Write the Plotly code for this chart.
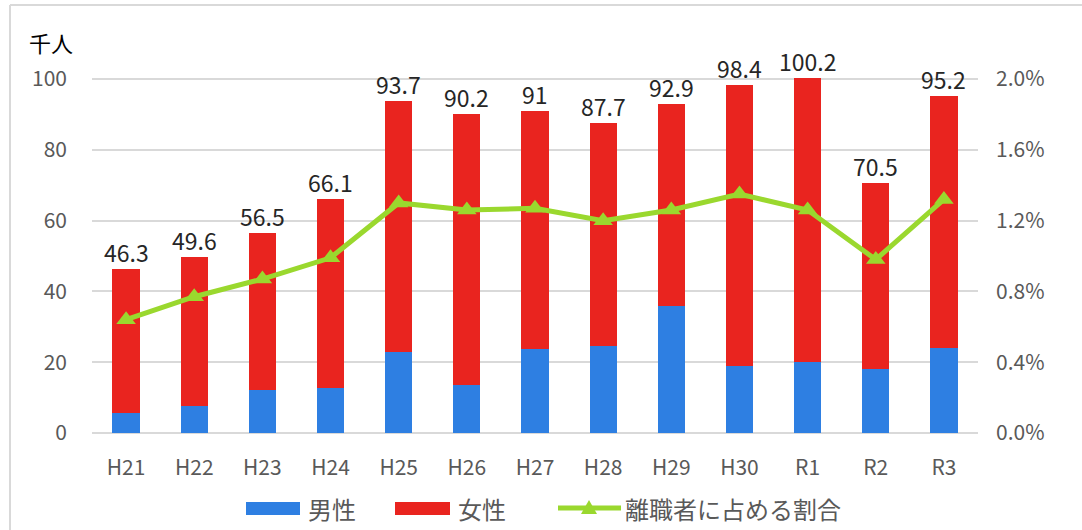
import plotly.graph_objects as go

categories = ["H21", "H22", "H23", "H24", "H25", "H26", "H27", "H28", "H29", "H30", "R1", "R2", "R3"]
totals = [46.3, 49.6, 56.5, 66.1, 93.7, 90.2, 91, 87.7, 92.9, 98.4, 100.2, 70.5, 95.2]
total_labels = ["46.3", "49.6", "56.5", "66.1", "93.7", "90.2", "91", "87.7", "92.9", "98.4", "100.2", "70.5", "95.2"]
male = [5.6, 7.7, 12.2, 12.7, 22.8, 13.7, 23.7, 24.6, 35.9, 18.8, 20.2, 18.0, 24.1]
female = [round(t - m, 1) for t, m in zip(totals, male)]
ratio = [0.0064, 0.0077, 0.0087, 0.0099, 0.0130, 0.0126, 0.0127, 0.0120, 0.0126, 0.0135, 0.0126, 0.0098, 0.0132]
legend_names = ["男性", "女性", "離職者に占める割合"]

FONT = "Noto Sans CJK JP"
GRAY = "#595959"
BLUE, RED, GREEN = "#2E7FE2", "#E9241F", "#9AD82E"

W, H = 1082, 530
L, R, T, B = 92, 104, 78, 97
pw, ph = W - L - R, H - T - B
YMAX = 100.3


def px(x):
    return (x - L) / pw


def py(y):
    return (H - B - y) / ph


fig = go.Figure()
fig.add_trace(go.Bar(x=categories, y=male, name=legend_names[0], marker_color=BLUE,
                     marker_line_width=0, cliponaxis=False))
fig.add_trace(go.Bar(x=categories, y=female, name=legend_names[1], marker_color=RED,
                     marker_line_width=0, cliponaxis=False))
fig.add_trace(go.Scatter(x=categories, y=ratio, name=legend_names[2], yaxis="y2",
                         mode="lines+markers", cliponaxis=False,
                         line=dict(color=GREEN, width=5),
                         marker=dict(symbol="triangle-up", size=17, color=GREEN)))

for c, t, lab in zip(categories, totals, total_labels):
    fig.add_annotation(x=c, y=t, xref="x", yref="y", text=lab, showarrow=False,
                       yanchor="bottom", yshift=-2,
                       font=dict(size=23, color="#262626", family=FONT))

# outer frame (top and left edges visible)
fig.add_shape(type="line", xref="paper", yref="paper", x0=px(10), x1=px(W + 20), y0=py(5), y1=py(5),
              line=dict(color="#D9D9D9", width=2))
fig.add_shape(type="line", xref="paper", yref="paper", x0=px(10), x1=px(10), y0=py(5), y1=py(H + 20),
              line=dict(color="#D9D9D9", width=2))

fig.add_annotation(text="千人", xref="paper", yref="paper", x=px(27), y=py(42),
                   xanchor="left", yanchor="middle", showarrow=False,
                   font=dict(size=22, color="#000000", family=FONT))

# custom legend
ly = 508
fig.add_shape(type="rect", xref="paper", yref="paper", x0=px(246), x1=px(300), y0=py(515), y1=py(502),
              fillcolor=BLUE, line_width=0)
fig.add_shape(type="rect", xref="paper", yref="paper", x0=px(395), x1=px(450), y0=py(515), y1=py(502),
              fillcolor=RED, line_width=0)
fig.add_shape(type="line", xref="paper", yref="paper", x0=px(558), x1=px(621), y0=py(ly), y1=py(ly),
              line=dict(color=GREEN, width=5))
fig.add_shape(type="path", xref="paper", yref="paper",
              path=f"M {px(581)},{py(514)} L {px(597)},{py(514)} L {px(589)},{py(500)} Z",
              fillcolor=GREEN, line_width=0)
for xx, name in zip([306, 456, 623], legend_names):
    fig.add_annotation(text=name, xref="paper", yref="paper", x=px(xx), y=py(ly),
                       xanchor="left", yanchor="middle", showarrow=False,
                       font=dict(size=24, color=GRAY, family=FONT))

fig.update_layout(
    width=W, height=H,
    margin=dict(l=L, r=R, t=T, b=B),
    paper_bgcolor="white", plot_bgcolor="white",
    barmode="stack", bargap=0.6,
    font=dict(family=FONT, color=GRAY, size=21),
    showlegend=False,
    xaxis=dict(type="category", range=[-0.5, 12.5], showgrid=False, showline=False, ticks="",
               ticklabelstandoff=20,
               tickfont=dict(size=21, color=GRAY, family=FONT)),
    yaxis=dict(range=[0, YMAX], tickvals=[0, 20, 40, 60, 80, 100], gridcolor="#D9D9D9", gridwidth=1.5,
               zeroline=True, zerolinecolor="#D9D9D9", zerolinewidth=1.5,
               showline=False, ticks="", ticklabelstandoff=24,
               tickfont=dict(size=21, color=GRAY, family=FONT)),
    yaxis2=dict(range=[0, 0.02 * YMAX / 100], tickvals=[0, 0.004, 0.008, 0.012, 0.016, 0.02],
                tickformat=".1%", overlaying="y", side="right",
                showgrid=False, zeroline=False, showline=False, ticks="", ticklabelstandoff=17,
                tickfont=dict(size=21, color=GRAY, family=FONT)),
)

fig.write_html("out.html")
